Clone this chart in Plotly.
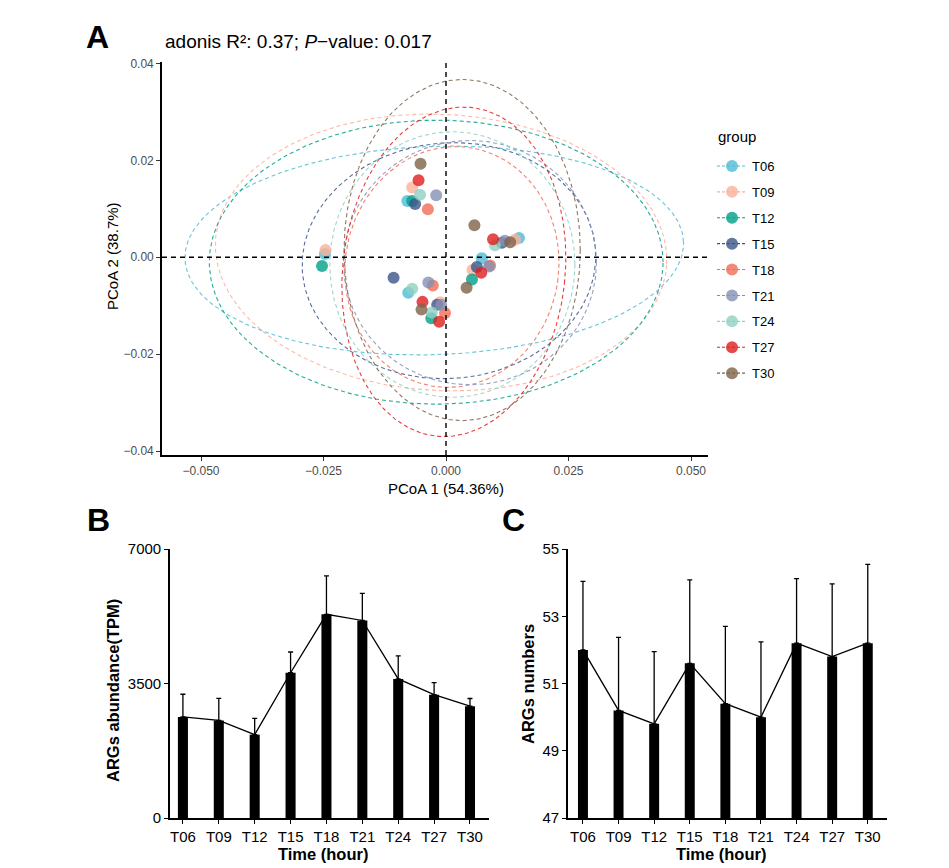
import numpy as np
import plotly.graph_objects as go

W, H = 949, 868

# ---------------- Panel A data (PCoA) ----------------
groups = ["T06", "T09", "T12", "T15", "T18", "T21", "T24", "T27", "T30"]
group_colors = ["#4DBBD5", "#FBB09A", "#00A087", "#3C5488", "#F26B55",
                "#8491B4", "#91D1C2", "#E01E1E", "#7E6148"]

sample_group = ["T06"] * 5 + ["T09"] * 5 + ["T12"] * 4 + ["T15"] * 5 + ["T18"] * 4 + \
               ["T21"] * 5 + ["T24"] * 4 + ["T27"] * 5 + ["T30"] * 5
pcoa1 = [-0.0247, -0.0079, -0.0077, 0.0073, 0.0149,
         -0.0246, -0.0069, -0.0012, 0.0054, 0.0141,
         -0.0253, -0.0069, -0.0030, 0.0053,
         -0.0107, -0.0063, -0.0018, 0.0063, 0.0114,
         -0.0037, -0.0027, -0.0002, 0.0090,
         -0.0020, -0.0036, -0.0010, 0.0088, 0.0120,
         -0.0053, -0.0069, -0.0029, 0.0100,
         -0.0056, -0.0048, -0.0014, 0.0072, 0.0096,
         -0.0052, -0.0050, 0.0042, 0.0058, 0.0131]
pcoa2 = [0.0007, 0.0116, -0.0073, -0.0002, 0.0040,
         0.0015, 0.0144, -0.0093, -0.0026, 0.0036,
         -0.0018, 0.0116, -0.0126, -0.0046,
         -0.0042, 0.0110, -0.0098, -0.0020, 0.0030,
         0.0099, -0.0058, -0.0115, -0.0017,
         0.0128, -0.0052, -0.0098, -0.0019, 0.0034,
         0.0129, -0.0065, -0.0114, 0.0025,
         0.0159, -0.0092, -0.0133, -0.0032, 0.0037,
         0.0193, -0.0108, -0.0063, 0.0066, 0.0031]

# confidence ellipse parameters (centre, semi-axes, rotation deg)
ell_cx = [-0.0024, -0.0010, -0.0020, 0.0006, 0.0012, 0.0049, 0.0013, 0.0016, 0.0033]
ell_cy = [0.0014, 0.0010, -0.0010, -0.0007, -0.0020, -0.0011, -0.0015, -0.0030, 0.0015]
ell_rx = [0.0509, 0.0461, 0.0463, 0.0300, 0.0218, 0.0258, 0.0250, 0.0227, 0.0241]
ell_ry = [0.0215, 0.0285, 0.0293, 0.0243, 0.0249, 0.0252, 0.0274, 0.0341, 0.0352]
ell_ang = [2, -3, 0, 5, -8, 0, 0, -6, 0]

# ---------------- Panel B / C data ----------------
time_labels = ["T06", "T09", "T12", "T15", "T18", "T21", "T24", "T27", "T30"]
abundance_mean = [2630, 2540, 2170, 3780, 5300, 5140, 3620, 3210, 2910]
abundance_sd = [590, 575, 420, 540, 1000, 705, 600, 315, 200]
numbers_mean = [52.0, 50.2, 49.8, 51.6, 50.4, 50.0, 52.2, 51.8, 52.2]
numbers_sd = [2.04, 2.17, 2.15, 2.48, 2.30, 2.24, 1.92, 2.16, 2.34]


def px(x):
    return x / W


def py(y):
    return 1 - y / H


FONT = "Liberation Sans, Arial, sans-serif"
fig = go.Figure()

# ellipses
t = np.linspace(0, 2 * np.pi, 240)
for i, g in enumerate(groups):
    a = np.deg2rad(ell_ang[i])
    ex = ell_cx[i] + ell_rx[i] * np.cos(t) * np.cos(a) - ell_ry[i] * np.sin(t) * np.sin(a)
    ey = ell_cy[i] + ell_rx[i] * np.cos(t) * np.sin(a) + ell_ry[i] * np.sin(t) * np.cos(a)
    fig.add_trace(go.Scatter(x=ex, y=ey, mode="lines", xaxis="x", yaxis="y",
                             line=dict(color=group_colors[i], width=1.1, dash="4px,3px"),
                             opacity=0.85, showlegend=False, hoverinfo="skip"))

# points
for i, g in enumerate(groups):
    xs = [x for x, s in zip(pcoa1, sample_group) if s == g]
    ys = [y for y, s in zip(pcoa2, sample_group) if s == g]
    fig.add_trace(go.Scatter(x=xs, y=ys, mode="markers", xaxis="x", yaxis="y",
                             marker=dict(color=group_colors[i], size=12, opacity=0.8,
                                         line=dict(width=0)),
                             showlegend=False))

# legend keys
for i, g in enumerate(groups):
    fig.add_trace(go.Scatter(x=[None], y=[None], mode="lines+markers", name=g,
                             xaxis="x", yaxis="y", legendgroup=g,
                             line=dict(color=group_colors[i], width=1.1, dash="3px,2px"),
                             marker=dict(color=group_colors[i], size=12, opacity=0.8)))

# ---------------- Panel B ----------------
fig.add_trace(go.Bar(x=time_labels, y=abundance_mean, xaxis="x2", yaxis="y2",
                     marker=dict(color="black", line=dict(width=0)), width=0.28,
                     error_y=dict(type="data", array=abundance_sd, arrayminus=[0] * 9,
                                  symmetric=False, color="black", thickness=1.3, width=2.5),
                     showlegend=False))
fig.add_trace(go.Scatter(x=time_labels, y=abundance_mean, mode="lines", xaxis="x2", yaxis="y2",
                         line=dict(color="black", width=1.3), showlegend=False))

# ---------------- Panel C ----------------
fig.add_trace(go.Bar(x=time_labels, y=[m - 47 for m in numbers_mean], base=47,
                     xaxis="x3", yaxis="y3",
                     marker=dict(color="black", line=dict(width=0)), width=0.28,
                     error_y=dict(type="data", array=numbers_sd, arrayminus=[0] * 9,
                                  symmetric=False, color="black", thickness=1.3, width=2.5),
                     showlegend=False))
fig.add_trace(go.Scatter(x=time_labels, y=numbers_mean, mode="lines", xaxis="x3", yaxis="y3",
                         line=dict(color="black", width=1.3), showlegend=False))

axA = dict(showline=True, linecolor="black", linewidth=1.6, ticks="outside", ticklen=4,
           tickcolor="#333333", tickwidth=1.2, showgrid=False, zeroline=False, automargin=False,
           tickfont=dict(size=12, color="#4d4d4d", family=FONT))
axBC = dict(showline=True, linecolor="black", linewidth=1.6, ticks="outside", ticklen=4,
            tickcolor="black", tickwidth=1.4, showgrid=False, zeroline=False, automargin=False,
            tickfont=dict(size=15, color="black", family=FONT))

fig.update_layout(
    width=W, height=H, margin=dict(l=0, r=0, t=0, b=0, pad=0, autoexpand=False),
    paper_bgcolor="white", plot_bgcolor="white",
    font=dict(family=FONT, color="black"),
    xaxis=dict(domain=[px(162), px(708)], range=[-0.05796, 0.05347], anchor="y",
               tickvals=[-0.05, -0.025, 0, 0.025, 0.05], tickformat=".3f", **axA),
    yaxis=dict(domain=[py(455), py(62)], range=[-0.0408, 0.0403], anchor="x",
               tickvals=[-0.04, -0.02, 0, 0.02, 0.04], tickformat=".2f", **axA),
    xaxis2=dict(domain=[px(170), px(489)], range=[-0.36, 8.53], type="category",
                anchor="y2", **axBC),
    yaxis2=dict(domain=[py(818), py(549)], range=[0, 7000], anchor="x2",
                tickvals=[0, 3500, 7000], **axBC),
    xaxis3=dict(domain=[px(568), px(887)], range=[-0.42, 8.54], type="category",
                anchor="y3", **axBC),
    yaxis3=dict(domain=[py(818), py(549)], range=[47, 55], anchor="x3",
                tickvals=[47, 49, 51, 53, 55], **axBC),
    legend=dict(x=px(712), y=py(151), xanchor="left", yanchor="top",
                font=dict(size=13, color="black"), tracegroupgap=6, itemwidth=30,
                bgcolor="rgba(0,0,0,0)"),
    bargap=0.7,
)

# dashed reference lines at 0
fig.add_shape(type="line", xref="x", yref="y domain", x0=0, x1=0, y0=0, y1=1,
              line=dict(color="black", width=1.4, dash="5px,4px"))
fig.add_shape(type="line", xref="x domain", yref="y", x0=0, x1=1, y0=0, y1=0,
              line=dict(color="black", width=1.4, dash="5px,4px"))

ann = [
    dict(text="<b>A</b>", x=px(97), y=py(37), font=dict(size=32)),
    dict(text="<b>B</b>", x=px(98), y=py(520), font=dict(size=32)),
    dict(text="<b>C</b>", x=px(513), y=py(520), font=dict(size=32)),
    dict(text="adonis R²: 0.37; <i>P</i>−value: 0.017", x=px(163), y=py(42),
         xanchor="left", font=dict(size=19)),
    dict(text="group", x=px(716), y=py(137), xanchor="left", font=dict(size=15)),
    dict(text="PCoA 1 (54.36%)", x=px(446), y=py(488), font=dict(size=15)),
    dict(text="PCoA 2 (38.7%)", x=px(112), y=py(256), textangle=-90, font=dict(size=15)),
    dict(text="<b>ARGs abundance(TPM)</b>", x=px(113), y=py(691), textangle=-90,
         font=dict(size=16.5)),
    dict(text="<b>Time (hour)</b>", x=px(323), y=py(854), font=dict(size=16.5)),
    dict(text="<b>ARGs numbers</b>", x=px(528), y=py(684), textangle=-90, font=dict(size=16.5)),
    dict(text="<b>Time (hour)</b>", x=px(721), y=py(854), font=dict(size=16.5)),
]
for a in ann:
    base = dict(xref="paper", yref="paper", showarrow=False, xanchor="center", yanchor="middle")
    base.update(a)
    base["font"] = dict(family=FONT, color="black", **a["font"])
    fig.add_annotation(**base)

fig.write_html("out.html", config={"displayModeBar": False},
               post_script="document.body.style.margin='0';document.body.style.overflow='hidden';")
